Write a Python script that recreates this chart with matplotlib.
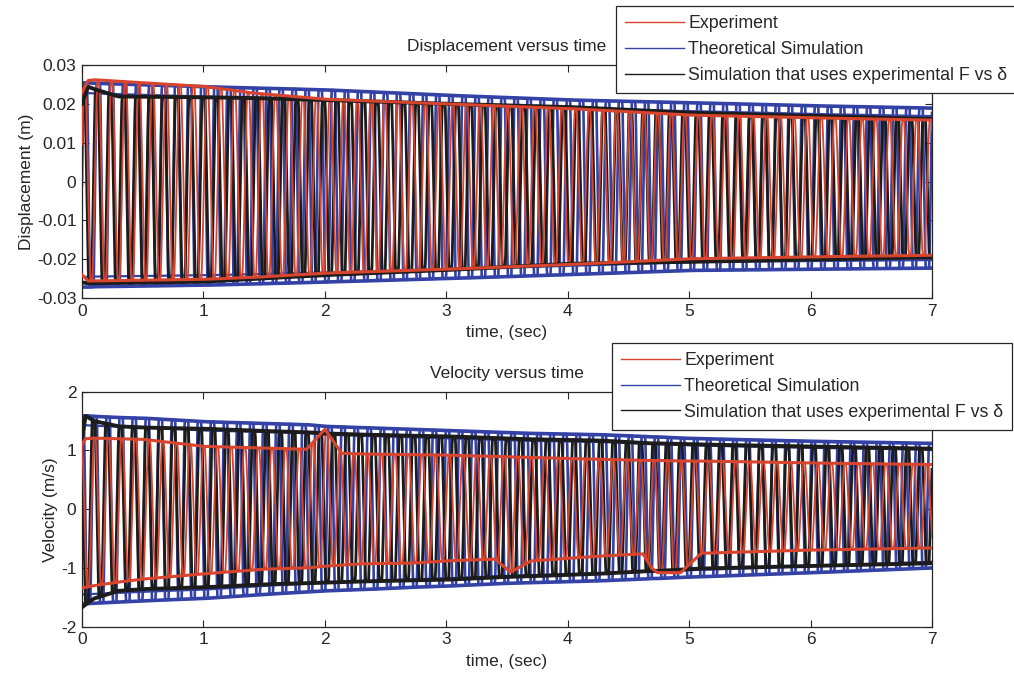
import numpy as np
import matplotlib
matplotlib.use("Agg")
import matplotlib.pyplot as plt
from matplotlib.lines import Line2D

plt.rcParams['font.family'] = ['Liberation Sans', 'DejaVu Sans']
plt.rcParams['axes.unicode_minus'] = False

# ---- envelope data (peak values of each signal at knot times) ----
disp_time = [0.0, 0.05, 0.1, 0.3, 1.0, 1.4, 2.0, 3.0, 4.0, 5.0, 6.0, 7.0]
disp_exp_upper = [0.023, 0.026, 0.0262, 0.0258, 0.0245, 0.0228, 0.0212, 0.0200, 0.0188, 0.0171, 0.0164, 0.0158]
disp_exp_lower = [-0.024, -0.0256, -0.0256, -0.0255, -0.0252, -0.0247, -0.0236, -0.0226, -0.0214, -0.0199, -0.0194, -0.0190]
disp_theory_upper = [0.0254, 0.0254, 0.0253, 0.0251, 0.0244, 0.0241, 0.0236, 0.0222, 0.0210, 0.0203, 0.0195, 0.0189]
disp_theory_lower = [-0.0272, -0.0272, -0.0271, -0.0270, -0.0267, -0.0264, -0.0259, -0.0250, -0.0240, -0.0229, -0.0226, -0.0223]
disp_fd_upper = [0.020, 0.0244, 0.0238, 0.0219, 0.0217, 0.0215, 0.0210, 0.0200, 0.0192, 0.0177, 0.0169, 0.0161]
disp_fd_lower = [-0.026, -0.0262, -0.0262, -0.0261, -0.0258, -0.0251, -0.0241, -0.0228, -0.0212, -0.0207, -0.0201, -0.0195]

vel_time = [0.0, 0.03, 0.1, 0.3, 0.5, 1.0, 1.5, 1.85, 2.0, 2.14, 2.3, 2.7, 3.0, 3.4, 3.53, 3.7, 4.25, 4.62,
            4.69, 4.74, 4.93, 5.1, 5.9, 7.0]
vel_exp_upper = [1.1, 1.2, 1.21, 1.2, 1.19, 1.07, 1.04, 1.02, 1.36, 0.95, 0.94, 0.93, 0.92, 0.9, 0.89, 0.88, 0.85,
                 0.83, 0.83, 0.83, 0.82, 0.82, 0.79, 0.76]
vel_exp_lower = [-1.34, -1.33, -1.3, -1.24, -1.19, -1.10, -1.02, -1.0, -0.97, -0.95, -0.93, -0.92, -0.88, -0.85,
                 -1.07, -0.88, -0.8, -0.76, -1.0, -1.08, -1.08, -0.75, -0.7, -0.66]
vel_theory_upper = [1.59, 1.59, 1.58, 1.56, 1.55, 1.49, 1.46, 1.44, 1.41, 1.40, 1.39, 1.36, 1.34, 1.31, 1.30,
                    1.29, 1.27, 1.24, 1.23, 1.23, 1.21, 1.20, 1.16, 1.12]
vel_theory_lower = [-1.61, -1.61, -1.60, -1.58, -1.56, -1.52, -1.45, -1.41, -1.39, -1.38, -1.37, -1.33, -1.31,
                    -1.27, -1.26, -1.25, -1.22, -1.19, -1.18, -1.18, -1.16, -1.15, -1.09, -1.0]
vel_fd_upper = [1.2, 1.59, 1.5, 1.41, 1.39, 1.37, 1.33, 1.31, 1.29, 1.28, 1.27, 1.25, 1.24, 1.21, 1.20, 1.19,
                1.17, 1.13, 1.12, 1.12, 1.11, 1.10, 1.07, 1.03]
vel_fd_lower = [-1.67, -1.62, -1.52, -1.39, -1.36, -1.33, -1.28, -1.26, -1.25, -1.24, -1.23, -1.21, -1.20, -1.16,
                -1.15, -1.14, -1.10, -1.06, -1.05, -1.05, -1.03, -1.01, -0.97, -0.92]

# oscillation frequencies (Hz)
freq_exp = 8.9
freq_theory = 9.3
freq_fd = 9.1

series_labels = ["Experiment", "Theoretical Simulation", "Simulation that uses experimental F vs \u03b4"]
x_ticks = [0, 1, 2, 3, 4, 5, 6, 7]
disp_ticks = [-0.03, -0.02, -0.01, 0, 0.01, 0.02, 0.03]
vel_ticks = [-2, -1, 0, 1, 2]

RED = '#d8452e'
BLUE = '#3442a6'
BLACK = '#1c1c1c'
TEXT = '#262626'

t = np.arange(0.0, 7.0 + 1e-9, 0.004)


def oscillation(knot_t, upper, lower, freq, sharp, phase):
    U = np.interp(t, knot_t, upper)
    L = np.interp(t, knot_t, lower)
    mid = (U + L) / 2
    half = (U - L) / 2
    shape = np.clip(sharp * np.sin(2 * np.pi * freq * t + phase), -1, 1)
    return mid + half * shape, U, L


def draw_panel(ax, knot_t, exp_u, exp_l, th_u, th_l, fd_u, fd_l, phases):
    y_th, Uth, Lth = oscillation(knot_t, th_u, th_l, freq_theory, 1.6, phases[1])
    y_fd, Ufd, Lfd = oscillation(knot_t, fd_u, fd_l, freq_fd, 1.3, phases[2])
    y_ex, Uex, Lex = oscillation(knot_t, exp_u, exp_l, freq_exp, 1.1, phases[0])

    ax.plot(t, y_th, color=BLUE, lw=1.9, zorder=2)
    ax.plot(t, y_fd, color=BLACK, lw=2.0, zorder=3)
    ax.plot(t, y_ex, color=RED, lw=1.3, zorder=4)

    # theoretical envelope band (outer edge + inner edge)
    span = Uth - Lth
    ax.plot(t, Uth, color=BLUE, lw=2.6, zorder=2)
    ax.plot(t, Uth - 0.05 * span, color=BLUE, lw=1.6, zorder=2)
    ax.plot(t, Lth, color=BLUE, lw=2.6, zorder=2)
    ax.plot(t, Lth + 0.05 * span, color=BLUE, lw=1.6, zorder=2)

    ax.plot(t, Ufd, color=BLACK, lw=2.8, zorder=5)
    ax.plot(t, Lfd, color=BLACK, lw=2.8, zorder=5)
    ax.plot(t, Uex, color=RED, lw=2.2, zorder=6)
    ax.plot(t, Lex, color=RED, lw=2.2, zorder=6)


def style_axes(ax, yticks, ylabel, title):
    ax.set_xlim(0, 7)
    ax.set_xticks(x_ticks)
    ax.set_xticklabels([str(v) for v in x_ticks])
    ax.set_ylim(yticks[0], yticks[-1])
    ax.set_yticks(yticks)
    ax.tick_params(direction='in', top=True, right=True, length=5, width=0.8, labelsize=12.5,
                   colors=TEXT, pad=4)
    for s in ax.spines.values():
        s.set_linewidth(0.9)
        s.set_color(TEXT)
    ax.set_xlabel('time, (sec)', fontsize=12.5, color=TEXT, labelpad=5)
    ax.set_ylabel(ylabel, fontsize=12.5, color=TEXT, labelpad=2)
    ax.set_title(title, fontsize=12.5, color=TEXT, pad=10)


fig = plt.figure(figsize=(10.14, 6.77), dpi=100)
ax1 = fig.add_axes([82 / 1014, 1 - 298 / 677, 850 / 1014, 233 / 677])
ax2 = fig.add_axes([82 / 1014, 1 - 626.7 / 677, 850 / 1014, 235 / 677])

draw_panel(ax1, disp_time, disp_exp_upper, disp_exp_lower, disp_theory_upper, disp_theory_lower,
           disp_fd_upper, disp_fd_lower, (0.4, 0.0, 0.9))
draw_panel(ax2, vel_time, vel_exp_upper, vel_exp_lower, vel_theory_upper, vel_theory_lower,
           vel_fd_upper, vel_fd_lower, (2.0, 1.57, 2.4))

style_axes(ax1, disp_ticks, 'Displacement (m)', 'Displacement versus time')
ax1.set_yticklabels(['-0.03', '-0.02', '-0.01', '0', '0.01', '0.02', '0.03'])
style_axes(ax2, vel_ticks, 'Velocity (m/s)', 'Velocity versus time')

handles = [Line2D([], [], color=c, lw=1.0) for c in (RED, BLUE, BLACK)]
for ax, anchor, loc in ((ax1, (616 / 1014, 1 - 93 / 677), 'lower left'),
                        (ax2, (612 / 1014, 1 - 343 / 677), 'upper left')):
    leg = ax.legend(handles, series_labels, loc=loc, bbox_to_anchor=anchor,
                    bbox_transform=fig.transFigure, fontsize=12.8, handlelength=3.3,
                    handletextpad=0.25, labelspacing=0.5, borderpad=0.5,
                    fancybox=False, framealpha=1, edgecolor=TEXT, borderaxespad=0)
    leg.get_frame().set_linewidth(0.9)
    leg.set_zorder(20)
    for txt in leg.get_texts():
        txt.set_color(TEXT)

fig.savefig('out.png', dpi=100, facecolor='white')
